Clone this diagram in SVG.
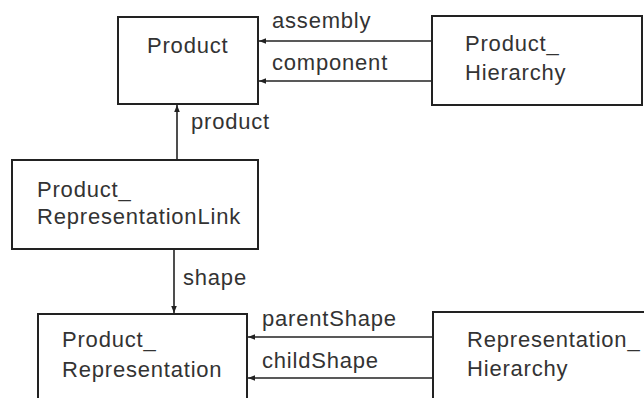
<svg xmlns="http://www.w3.org/2000/svg" width="644" height="398" viewBox="0 0 644 398">
<style>
.box{fill:#fff;stroke:#222;stroke-width:2}
.t{font-family:"Liberation Sans",Arial,sans-serif;font-size:22px;fill:#333;letter-spacing:0.8px}
.c{stroke:#222;stroke-width:1.6;fill:none}
</style>
<defs>
<marker id="ah" viewBox="0 0 10 10" refX="10" refY="5" markerWidth="7" markerHeight="7" markerUnits="userSpaceOnUse" orient="auto">
<path d="M0,1 L10,5 L0,9 z" fill="#222"/>
</marker>
</defs>
<rect width="644" height="398" fill="#fff"/>
<g id="connectors">
<line class="c" x1="432" y1="41" x2="259" y2="41" marker-end="url(#ah)"/>
<line class="c" x1="432" y1="81" x2="259" y2="81" marker-end="url(#ah)"/>
<line class="c" x1="177" y1="160" x2="177" y2="105" marker-end="url(#ah)"/>
<line class="c" x1="174" y1="249" x2="174" y2="313" marker-end="url(#ah)"/>
<line class="c" x1="433" y1="337" x2="248" y2="337" marker-end="url(#ah)"/>
<line class="c" x1="433" y1="378" x2="248" y2="378" marker-end="url(#ah)"/>
<text class="t" x="272" y="28">assembly</text>
<text class="t" x="272" y="70">component</text>
<text class="t" x="191" y="129">product</text>
<text class="t" x="183" y="285">shape</text>
<text class="t" x="262" y="326">parentShape</text>
<text class="t" x="262" y="368">childShape</text>
</g>
<g id="product">
<rect class="box" x="118" y="17" width="140" height="87"/>
<text class="t" x="147" y="53">Product</text>
</g>
<g id="product_hierarchy">
<rect class="box" x="432" y="16" width="210" height="89"/>
<text class="t" x="465" y="51">Product_</text>
<text class="t" x="465" y="80">Hierarchy</text>
</g>
<g id="product_representationlink">
<rect class="box" x="12" y="160" width="246" height="89"/>
<text class="t" x="37" y="197">Product_</text>
<text class="t" x="37" y="224">RepresentationLink</text>
</g>
<g id="product_representation">
<rect class="box" x="38" y="314" width="209" height="100"/>
<text class="t" x="62" y="347">Product_</text>
<text class="t" x="62" y="377">Representation</text>
</g>
<g id="representation_hierarchy">
<rect class="box" x="433" y="312" width="230" height="100"/>
<text class="t" x="467" y="347">Representation_</text>
<text class="t" x="467" y="376">Hierarchy</text>
</g>
</svg>
